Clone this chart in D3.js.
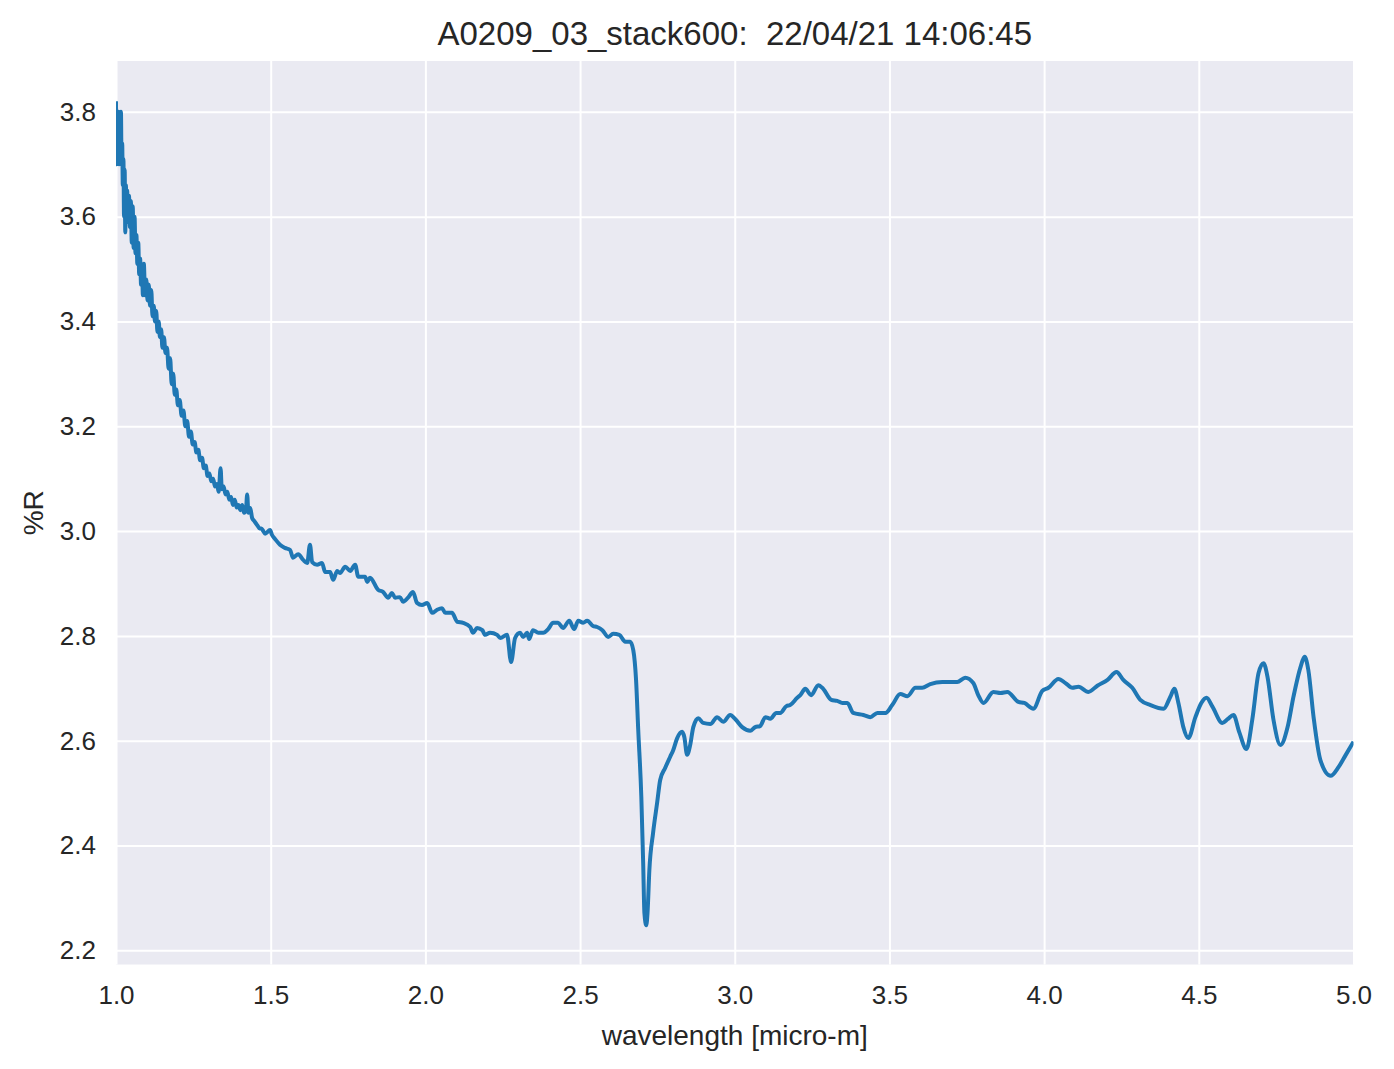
<!DOCTYPE html>
<html>
<head>
<meta charset="utf-8">
<script src="https://cdn.jsdelivr.net/npm/d3@7"></script>
<style>
  html, body { margin: 0; padding: 0; background: #ffffff; }
  svg { display: block; }
</style>
</head>
<body>
<svg id="chart" width="1394" height="1069"></svg>
<script>
const titleText = "A0209_03_stack600:  22/04/21 14:06:45";
const xLabel = "wavelength [micro-m]";
const yLabel = "%R";
const xTicks = [1.0, 1.5, 2.0, 2.5, 3.0, 3.5, 4.0, 4.5, 5.0];
const yTicks = [2.2, 2.4, 2.6, 2.8, 3.0, 3.2, 3.4, 3.6, 3.8];
const xDomain = [1.0, 5.0];
const yDomain = [2.173, 3.897];

const wavelength = [
  1.000,1.002,1.004,1.006,1.008,1.010,1.012,1.014,1.016,1.018,
  1.020,1.022,1.024,1.026,1.028,1.030,1.032,1.034,1.036,1.039,
  1.042,1.045,1.048,1.051,1.054,1.057,1.060,1.063,1.066,1.069,
  1.072,1.075,1.078,1.081,1.084,1.087,1.090,1.094,1.098,1.102,
  1.106,1.110,1.114,1.118,1.122,1.126,1.130,1.134,1.138,1.142,
  1.146,1.150,1.155,1.160,1.165,1.170,1.175,1.180,1.185,1.190,
  1.195,1.200,1.206,1.212,1.218,1.224,1.230,1.236,1.242,1.248,
  1.254,1.260,1.266,1.272,1.278,1.284,1.290,1.296,1.302,1.308,
  1.314,1.320,1.326,1.332,1.338,1.342,1.348,1.354,1.360,1.366,
  1.372,1.378,1.384,1.390,1.396,1.402,1.408,1.414,1.420,1.424,
  1.428,1.434,1.440,1.446,1.452,1.458,1.464,1.470,1.476,1.482,
  1.498,1.504,1.514,1.530,1.546,1.563,1.572,1.589,1.605,1.618,
  1.627,1.634,1.650,1.666,1.676,1.692,1.702,1.715,1.724,1.741,
  1.757,1.773,1.783,1.805,1.812,1.821,1.847,1.863,1.880,1.892,
  1.902,1.918,1.928,1.944,1.960,1.973,1.989,2.006,2.022,2.038,
  2.054,2.064,2.086,2.103,2.122,2.145,2.154,2.167,2.184,2.193,
  2.209,2.232,2.242,2.264,2.277,2.290,2.306,2.316,2.329,2.335,
  2.348,2.365,2.381,2.397,2.413,2.429,2.445,2.465,2.481,2.494,
  2.510,2.523,2.542,2.555,2.572,2.591,2.607,2.627,2.646,2.662,
  2.672,2.681,2.688,2.698,2.704,2.708,2.714,2.718,2.724,2.736,
  2.749,2.759,2.775,2.791,2.801,2.814,2.830,2.837,2.846,2.856,
  2.866,2.882,2.898,2.921,2.943,2.963,2.985,3.002,3.024,3.050,
  3.066,3.082,3.099,3.115,3.134,3.147,3.167,3.179,3.202,3.212,
  3.228,3.247,3.270,3.286,3.312,3.331,3.348,3.364,3.383,3.416,
  3.438,3.461,3.487,3.509,3.535,3.558,3.584,3.606,3.632,3.671,
  3.719,3.745,3.771,3.787,3.804,3.836,3.859,3.881,3.917,3.936,
  3.965,3.994,4.014,4.046,4.069,4.091,4.111,4.143,4.172,4.205,
  4.234,4.256,4.285,4.311,4.344,4.386,4.408,4.421,4.434,4.450,
  4.466,4.489,4.508,4.525,4.544,4.576,4.593,4.612,4.631,4.654,
  4.673,4.693,4.709,4.722,4.741,4.764,4.787,4.806,4.829,4.842,
  4.854,4.871,4.893,4.926,4.952,4.975,5.000
];

const reflectance = [
  3.82,3.70,3.79,3.71,3.80,3.70,3.78,3.71,3.80,3.70,
  3.74,3.66,3.71,3.60,3.69,3.57,3.66,3.60,3.65,3.59,
  3.64,3.58,3.63,3.55,3.62,3.54,3.60,3.53,3.565,3.51,
  3.55,3.49,3.52,3.47,3.50,3.45,3.51,3.45,3.48,3.44,
  3.47,3.43,3.46,3.41,3.43,3.40,3.42,3.38,3.40,3.37,
  3.385,3.35,3.37,3.34,3.35,3.31,3.33,3.28,3.30,3.26,
  3.27,3.24,3.25,3.22,3.23,3.20,3.21,3.18,3.19,3.165,
  3.17,3.15,3.155,3.135,3.14,3.12,3.125,3.105,3.11,3.095,
  3.10,3.085,3.09,3.075,3.12,3.08,3.085,3.07,3.075,3.06,
  3.065,3.05,3.06,3.045,3.05,3.04,3.05,3.035,3.04,3.07,
  3.035,3.044,3.025,3.02,3.015,3.01,3.005,3.005,3.00,2.995,
  3.002,2.993,2.985,2.974,2.968,2.964,2.949,2.956,2.945,2.939,
  2.974,2.941,2.936,2.939,2.922,2.922,2.907,2.924,2.920,2.932,
  2.924,2.936,2.913,2.913,2.903,2.911,2.888,2.884,2.873,2.882,
  2.873,2.874,2.865,2.873,2.884,2.863,2.859,2.863,2.844,2.850,
  2.853,2.844,2.844,2.827,2.825,2.817,2.806,2.815,2.811,2.802,
  2.806,2.802,2.796,2.802,2.750,2.796,2.806,2.798,2.806,2.794,
  2.811,2.806,2.806,2.813,2.825,2.825,2.815,2.829,2.813,2.829,
  2.825,2.829,2.819,2.817,2.811,2.798,2.804,2.802,2.789,2.789,
  2.773,2.716,2.621,2.493,2.367,2.271,2.248,2.271,2.353,2.424,
  2.481,2.525,2.548,2.569,2.582,2.605,2.617,2.607,2.573,2.592,
  2.626,2.643,2.634,2.632,2.645,2.636,2.649,2.641,2.626,2.619,
  2.626,2.628,2.645,2.642,2.653,2.653,2.666,2.668,2.682,2.687,
  2.699,2.687,2.706,2.699,2.678,2.676,2.672,2.672,2.653,2.649,
  2.645,2.653,2.653,2.668,2.689,2.685,2.701,2.701,2.708,2.712,
  2.712,2.720,2.710,2.687,2.672,2.693,2.691,2.693,2.674,2.672,
  2.661,2.695,2.701,2.718,2.710,2.701,2.703,2.693,2.705,2.716,
  2.731,2.716,2.701,2.678,2.668,2.661,2.684,2.699,2.672,2.626,
  2.605,2.645,2.672,2.682,2.665,2.634,2.641,2.649,2.616,2.584,
  2.641,2.729,2.748,2.722,2.641,2.592,2.626,2.684,2.741,2.760,
  2.735,2.645,2.563,2.533,2.550,2.573,2.598
];

const margin = { left: 116, top: 61, right: 1394 - 1353.5, bottom: 1069 - 964.5 };
const width = 1394, height = 1069;
const svg = d3.select("#chart");

const x = d3.scaleLinear().domain(xDomain).range([margin.left, width - margin.right]);
const y = d3.scaleLinear().domain(yDomain).range([height - margin.bottom, margin.top]);

const font = "'Liberation Sans', Arial, sans-serif";
const textColor = "#262626";

// background
svg.append("rect")
  .attr("x", x(xDomain[0])).attr("y", y(yDomain[1]))
  .attr("width", x(xDomain[1]) - x(xDomain[0]))
  .attr("height", y(yDomain[0]) - y(yDomain[1]))
  .attr("fill", "#EAEAF2");

// grid
const gx = svg.append("g")
  .attr("transform", `translate(0,${y(yDomain[0])})`)
  .call(d3.axisBottom(x).tickValues(xTicks).tickFormat(d3.format(".1f"))
    .tickSize(-(y(yDomain[0]) - y(yDomain[1]))).tickPadding(21));
gx.select(".domain").remove();
gx.selectAll(".tick line").attr("stroke", "#ffffff").attr("stroke-width", 2);
gx.selectAll(".tick text").attr("font-family", font).attr("font-size", 26)
  .attr("fill", textColor).attr("dy", "0.71em");

const gy = svg.append("g")
  .attr("transform", `translate(${x(xDomain[0])},0)`)
  .call(d3.axisLeft(y).tickValues(yTicks).tickFormat(d3.format(".1f"))
    .tickSize(-(x(xDomain[1]) - x(xDomain[0]))).tickPadding(20));
gy.select(".domain").remove();
gy.selectAll(".tick line").attr("stroke", "#ffffff").attr("stroke-width", 2);
gy.selectAll(".tick text").attr("font-family", font).attr("font-size", 26)
  .attr("fill", textColor);

// clip
svg.append("clipPath").attr("id", "clip").append("rect")
  .attr("x", x(xDomain[0])).attr("y", y(yDomain[1]))
  .attr("width", x(xDomain[1]) - x(xDomain[0]))
  .attr("height", y(yDomain[0]) - y(yDomain[1]));

const data = wavelength.map((w, i) => ({ w, r: reflectance[i] }));
const line = d3.line().x(d => x(d.w)).y(d => y(d.r)).curve(d3.curveMonotoneX);

svg.append("path")
  .datum(data)
  .attr("clip-path", "url(#clip)")
  .attr("fill", "none")
  .attr("stroke", "#1f77b4")
  .attr("stroke-width", 4)
  .attr("stroke-linejoin", "round")
  .attr("stroke-linecap", "butt")
  .attr("d", line);

// title
svg.append("text")
  .attr("x", (x(xDomain[0]) + x(xDomain[1])) / 2)
  .attr("y", 45)
  .attr("text-anchor", "middle")
  .attr("font-family", font).attr("font-size", 33)
  .attr("fill", textColor)
  .style("white-space", "pre")
  .attr("xml:space", "preserve")
  .text(titleText);

// axis labels
svg.append("text")
  .attr("x", (x(xDomain[0]) + x(xDomain[1])) / 2)
  .attr("y", 1045)
  .attr("text-anchor", "middle")
  .attr("font-family", font).attr("font-size", 28)
  .attr("fill", textColor)
  .text(xLabel);

svg.append("text")
  .attr("transform", `translate(43,${(y(yDomain[0]) + y(yDomain[1])) / 2}) rotate(-90)`)
  .attr("text-anchor", "middle")
  .attr("font-family", font).attr("font-size", 28)
  .attr("fill", textColor)
  .text(yLabel);
</script>
</body>
</html>
